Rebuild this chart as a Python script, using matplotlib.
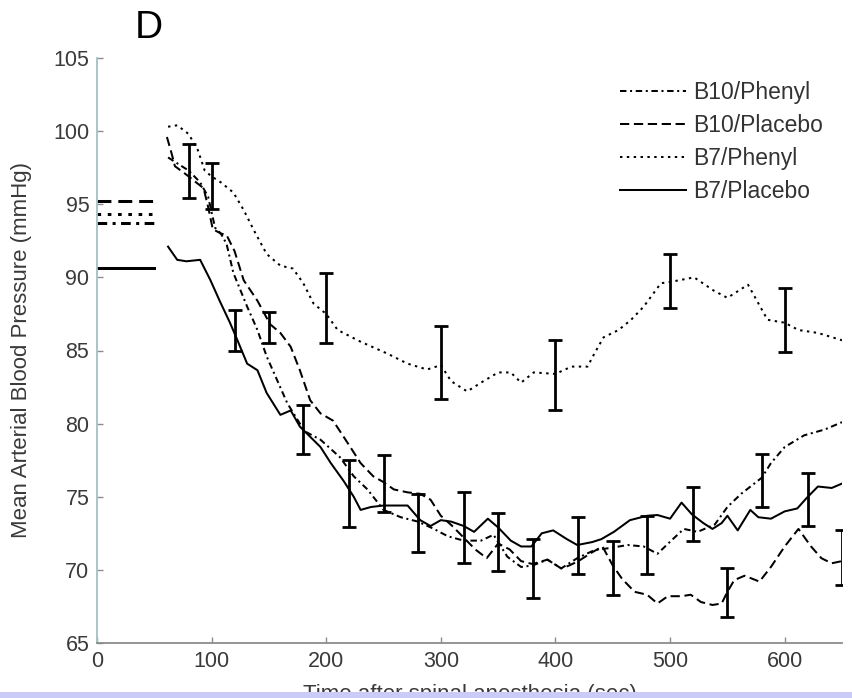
import matplotlib
matplotlib.use("Agg")
import matplotlib.pyplot as plt
from matplotlib.patches import Rectangle

# ---- data -------------------------------------------------------------
# Pre-anesthesia baseline means (drawn as short bars at left)
baseline_t = [0, 50]
baseline_b10_phenyl = 93.7
baseline_b10_placebo = 95.25
baseline_b7_phenyl = 94.35
baseline_b7_placebo = 90.65

# B10/Phenyl
t_b10_phenyl = [62, 70, 80, 90, 97, 103, 108, 113, 119, 131, 140, 148, 157, 166,
                177, 183, 195, 212, 224, 236, 250, 265, 280, 294, 306, 320, 335,
                346, 358, 370, 380, 393, 405, 419, 434, 448, 463, 477, 489, 501,
                512, 524, 539, 550, 562, 580, 588, 600, 617, 635, 650]
y_b10_phenyl = [98.2, 97.8, 97.3, 96.5, 95.5, 93.4, 93.0, 92.3, 90.3, 88.0, 86.4,
                84.6, 83.0, 81.4, 80.0, 79.4, 78.9, 77.7, 76.4, 75.5, 74.1, 73.6,
                73.3, 72.8, 72.3, 72.0, 72.0, 72.4, 70.9, 70.2, 70.3, 70.7, 70.1,
                70.8, 71.35, 71.5, 71.7, 71.6, 71.1, 72.0, 72.8, 72.6, 73.1, 74.3,
                75.2, 76.3, 77.3, 78.4, 79.2, 79.6, 80.1]

# B10/Placebo
t_b10_placebo = [61, 65, 68, 75, 80, 88, 93, 97, 101, 108, 113, 120, 128, 140,
                 151, 160, 169, 177, 186, 195, 206, 221, 230, 241, 250, 259, 271,
                 282, 291, 300, 310, 320, 330, 340, 350, 360, 370, 380, 393, 405,
                 412, 420, 432, 441, 450, 458, 469, 480, 489, 498, 510, 518, 527,
                 537, 545, 550, 556, 565, 578, 588, 600, 612, 623, 632, 641, 650]
y_b10_placebo = [99.6, 98.5, 97.6, 97.2, 96.9, 96.4, 96.1, 94.8, 93.3, 93.0, 92.9,
                 91.8, 89.8, 88.4, 86.8, 86.2, 85.25, 83.65, 81.6, 80.7, 80.2,
                 78.4, 77.3, 76.4, 76.0, 75.5, 75.3, 75.2, 74.8, 73.7, 73.0, 72.2,
                 71.4, 70.8, 71.8, 71.4, 70.6, 70.4, 70.7, 70.1, 70.3, 70.6, 71.2,
                 71.6, 70.3, 69.4, 68.5, 68.3, 67.7, 68.2, 68.2, 68.3, 67.8, 67.6,
                 67.7, 68.5, 69.3, 69.6, 69.2, 70.2, 71.6, 72.8, 71.6, 70.8, 70.45,
                 70.6]

# B7/Phenyl
t_b7_phenyl = [62, 70, 80, 88, 94, 100, 108, 119, 128, 137, 148, 160, 171, 180,
               189, 200, 210, 230, 253, 271, 288, 300, 309, 323, 335, 350, 361,
               370, 381, 400, 414, 428, 434, 442, 455, 466, 477, 492, 501, 521,
               538, 550, 568, 585, 600, 612, 629, 650]
y_b7_phenyl = [100.3, 100.4, 99.8, 98.7, 97.3, 96.9, 96.5, 95.8, 94.6, 93.2, 91.6,
               90.8, 90.6, 89.6, 88.2, 87.5, 86.4, 85.6, 84.8, 84.1, 83.7, 84.0,
               82.9, 82.2, 82.8, 83.5, 83.5, 82.8, 83.5, 83.4, 83.9, 83.9, 84.8,
               85.9, 86.4, 87.1, 88.0, 89.6, 89.7, 90.0, 89.1, 88.6, 89.5, 87.1,
               86.9, 86.4, 86.2, 85.7]

# B7/Placebo
t_b7_placebo = [62, 70, 78, 90, 99, 107, 116, 122, 131, 140, 148, 160, 169, 177,
                186, 195, 204, 215, 224, 230, 239, 250, 271, 282, 291, 300, 309,
                320, 329, 341, 350, 361, 370, 379, 388, 398, 410, 419, 432, 440,
                451, 465, 480, 489, 500, 510, 519, 529, 537, 545, 550, 559, 570,
                577, 588, 600, 611, 619, 629, 641, 650]
y_b7_placebo = [92.1, 91.2, 91.1, 91.2, 89.8, 88.4, 86.9, 85.8, 84.1, 83.65, 82.1,
                80.6, 80.9, 79.8, 79.1, 78.4, 77.3, 76.1, 75.0, 74.1, 74.3, 74.4,
                74.4, 73.4, 73.0, 73.4, 73.3, 73.0, 72.6, 73.5, 72.9, 72.0, 71.6,
                71.6, 72.5, 72.7, 72.1, 71.7, 71.9, 72.1, 72.6, 73.4, 73.7, 73.75,
                73.5, 74.6, 73.8, 73.2, 72.8, 73.2, 73.7, 72.7, 74.1, 73.6, 73.5,
                74.0, 74.2, 74.9, 75.7, 75.6, 75.9]

# Error bars (mean +/- SEM) at staggered time points
eb_t_b10_phenyl = [80, 180, 280, 380, 480, 580]
eb_m_b10_phenyl = [97.3, 79.6, 73.2, 70.1, 71.7, 76.1]
eb_e_b10_phenyl = [1.85, 1.65, 2.0, 2.0, 2.0, 1.8]

eb_t_b10_placebo = [150, 250, 350, 450, 550, 650]
eb_m_b10_placebo = [86.55, 75.9, 71.9, 70.15, 68.45, 70.85]
eb_e_b10_placebo = [1.05, 1.95, 2.0, 1.85, 1.65, 1.85]

eb_t_b7_phenyl = [100, 200, 300, 400, 500, 600]
eb_m_b7_phenyl = [96.25, 87.9, 84.15, 83.3, 89.75, 87.1]
eb_e_b7_phenyl = [1.55, 2.4, 2.5, 2.4, 1.85, 2.2]

eb_t_b7_placebo = [120, 220, 320, 420, 520, 620]
eb_m_b7_placebo = [86.4, 75.2, 72.9, 71.65, 73.85, 74.8]
eb_e_b7_placebo = [1.4, 2.3, 2.4, 1.95, 1.85, 1.8]

labels = ["B10/Phenyl", "B10/Placebo", "B7/Phenyl", "B7/Placebo"]
x_ticks = [0, 100, 200, 300, 400, 500, 600]
y_ticks = [65, 70, 75, 80, 85, 90, 95, 100, 105]

# ---- styling ----------------------------------------------------------
plt.rcParams["font.family"] = ["Liberation Sans", "DejaVu Sans"]
LW = 1.45
styles = {
    "B10/Phenyl": (0, (3.2, 1.8, 1.0, 1.8)),
    "B10/Placebo": (0, (4.6, 2.3)),
    "B7/Phenyl": (0, (1.2, 2.2)),
    "B7/Placebo": "-",
}

fig = plt.figure(figsize=(8.53, 6.98), dpi=100)
ax = fig.add_axes([97 / 853, 55 / 698, 745 / 853, 585 / 698])

series = [
    ("B10/Phenyl", t_b10_phenyl, y_b10_phenyl, baseline_b10_phenyl,
     eb_t_b10_phenyl, eb_m_b10_phenyl, eb_e_b10_phenyl),
    ("B10/Placebo", t_b10_placebo, y_b10_placebo, baseline_b10_placebo,
     eb_t_b10_placebo, eb_m_b10_placebo, eb_e_b10_placebo),
    ("B7/Phenyl", t_b7_phenyl, y_b7_phenyl, baseline_b7_phenyl,
     eb_t_b7_phenyl, eb_m_b7_phenyl, eb_e_b7_phenyl),
    ("B7/Placebo", t_b7_placebo, y_b7_placebo, baseline_b7_placebo,
     eb_t_b7_placebo, eb_m_b7_placebo, eb_e_b7_placebo),
]

for name, t, y, base, et, em, ee in series:
    ls = styles[name]
    ax.plot(t, y, color="black", lw=LW, linestyle=ls, label=name)
    ax.plot(baseline_t, [base, base], color="black", lw=LW * 1.5, linestyle=ls)
    ax.errorbar(et, em, yerr=ee, fmt="none", ecolor="black", elinewidth=2.0,
                capsize=4.9, capthick=2.0)

ax.set_xlim(0, 650)
ax.set_ylim(65, 105)
ax.set_xticks(x_ticks)
ax.set_yticks(y_ticks)

for side in ("top", "right"):
    ax.spines[side].set_visible(False)
ax.spines["left"].set_color("#a3c0c4")
ax.spines["bottom"].set_color("#8c8c8c")
ax.spines["left"].set_linewidth(1.3)
ax.spines["bottom"].set_linewidth(1.3)

ax.tick_params(axis="both", direction="in", length=4, width=1.0,
               colors="#8c8c8c", labelcolor="#3a3a3a", labelsize=15.5, pad=5.5)

ax.set_ylabel("Mean Arterial Blood Pressure (mmHg)", fontsize=16, color="#3a3a3a")
ax.yaxis.set_label_coords(-0.087, 0.5)
ax.set_xlabel("Time after spinal anesthesia (sec)", fontsize=16, color="#3a3a3a")
ax.xaxis.set_label_coords(0.5, -0.07)

leg = ax.legend(loc="upper left", bbox_to_anchor=(620 / 853, 1 - 81 / 698),
                bbox_transform=fig.transFigure, frameon=False, fontsize=16.5,
                handlelength=2.9, handletextpad=0.3, labelspacing=0.44,
                borderpad=0, borderaxespad=0)
for txt in leg.get_texts():
    txt.set_color("#333333")

fig.text(148.5 / 853, 1 - 27.5 / 698, "D", ha="center", va="center",
         fontsize=28, color="black")

# Lavender strip along the bottom edge
fig.patches.append(Rectangle((0, 0), 1, 6 / 698, transform=fig.transFigure,
                             facecolor="#cbcbf7", edgecolor="none", zorder=10))

fig.savefig("out.png", dpi=100)
